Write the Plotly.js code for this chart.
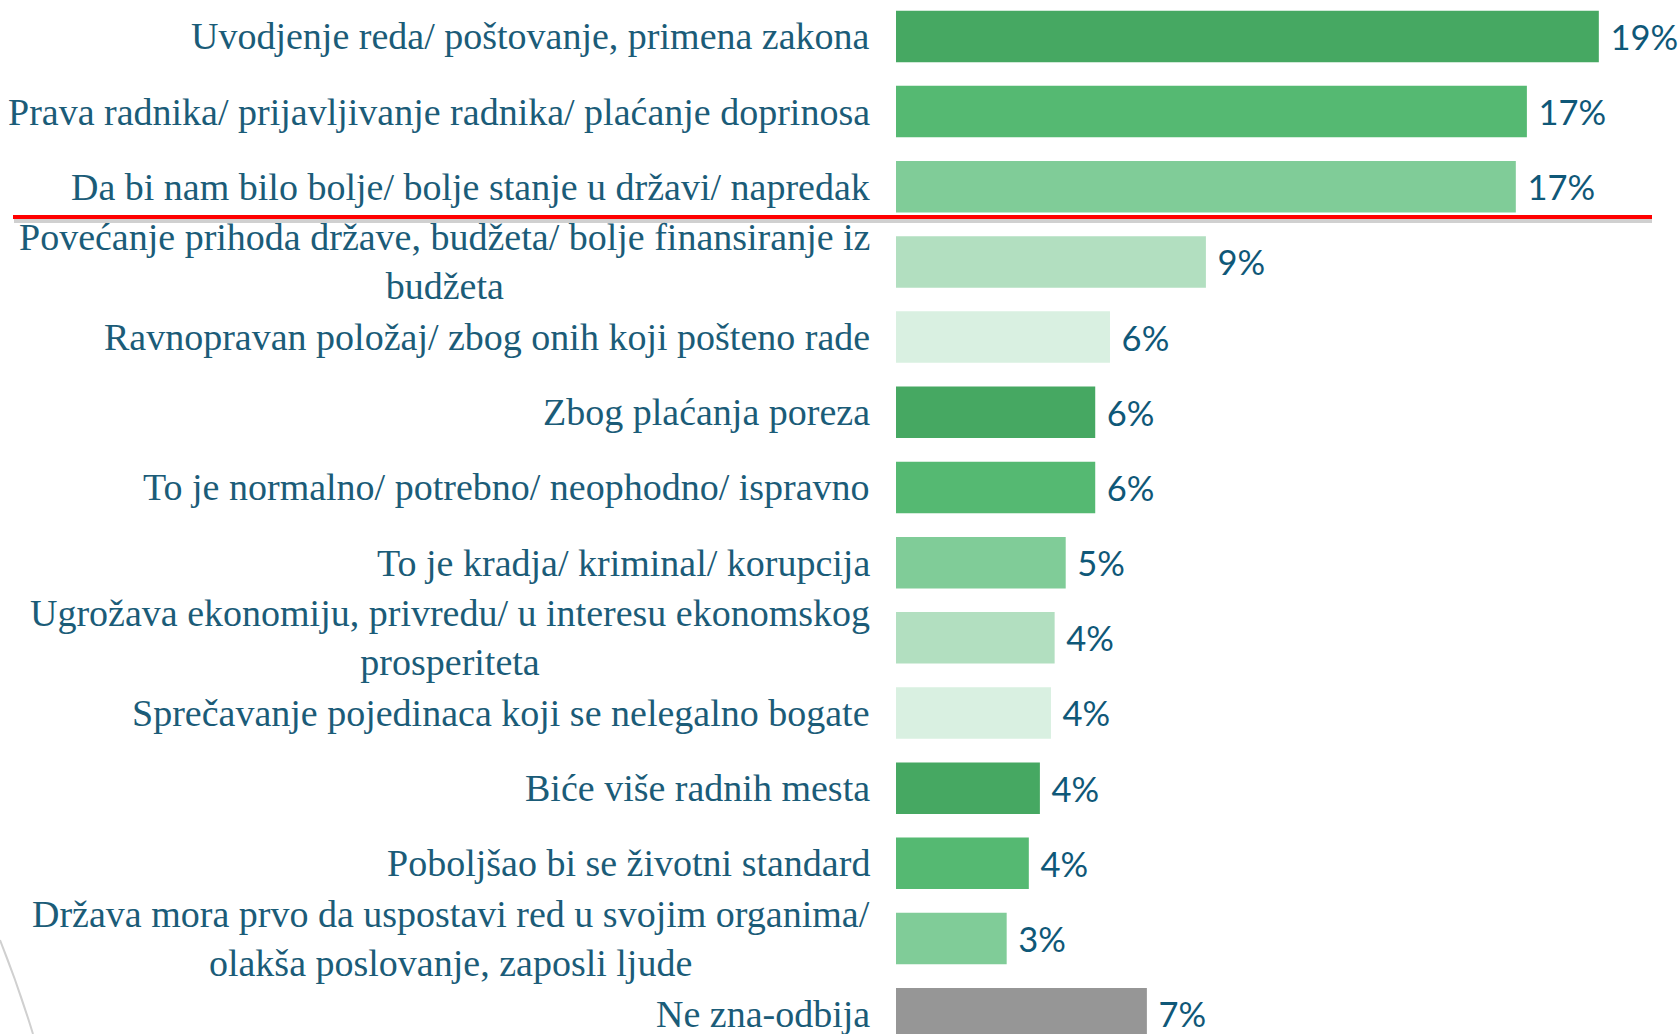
<!DOCTYPE html>
<html>
<head>
<meta charset="utf-8">
<script src="https://cdn.plot.ly/plotly-3.0.1.min.js"></script>
<style>
  html, body { margin: 0; padding: 0; background: #fff; }
  #plot { width: 1680px; height: 1034px; }
</style>
</head>
<body>
<div id="plot"></div>
<script>
var categories = [
  'Uvodjenje reda/ poštovanje, primena zakona',
  'Prava radnika/ prijavljivanje radnika/ plaćanje doprinosa',
  'Da bi nam bilo bolje/ bolje stanje u državi/ napredak',
  'Povećanje prihoda države, budžeta/ bolje finansiranje iz<br>budžeta',
  'Ravnopravan položaj/ zbog onih koji pošteno rade',
  'Zbog plaćanja poreza',
  'To je normalno/ potrebno/ neophodno/ ispravno',
  'To je kradja/ kriminal/ korupcija',
  'Ugrožava ekonomiju, privredu/ u interesu ekonomskog<br>prosperiteta',
  'Sprečavanje pojedinaca koji se nelegalno bogate',
  'Biće više radnih mesta',
  'Poboljšao bi se životni standard',
  'Država mora prvo da uspostavi red u svojim organima/<br>olakša poslovanje, zaposli ljude',
  'Ne zna-odbija'
];
var values = [19.05, 17.1, 16.8, 8.4, 5.8, 5.4, 5.4, 4.6, 4.3, 4.2, 3.9, 3.6, 3.0, 6.8];
var valueLabels = ['19%', '17%', '17%', '9%', '6%', '6%', '6%', '5%', '4%', '4%', '4%', '4%', '3%', '7%'];
var barColors = ['#46A862', '#55B972', '#80CC98', '#B2DFC0', '#D9F0E1',
                 '#46A862', '#55B972', '#80CC98', '#B2DFC0', '#D9F0E1',
                 '#46A862', '#55B972', '#80CC98', '#969696'];

var W = 1680, H = 1034, plotLeft = 896;
// pixel -> paper helpers for the decorative shapes
function px(x) { return (x - plotLeft) / (W - plotLeft); }
function py(y) { return 1 - y / H; }

var data = [{
  type: 'bar',
  orientation: 'h',
  y: categories,
  x: values,
  width: 0.685,
  marker: {color: barColors},
  text: valueLabels.map(function (t) { return '\u2009\u2009' + t; }),
  textposition: 'outside',
  cliponaxis: false,
  textfont: {family: 'Lato, sans-serif', size: 34.5, color: '#0F5878'},
  hoverinfo: 'none'
}];

var labelAnnotations = categories.map(function (c) {
  return {
    xref: 'paper', yref: 'y',
    x: 0, y: c,
    xanchor: 'right', yanchor: 'middle',
    xshift: -24,
    align: 'center',
    text: c,
    showarrow: false,
    font: {family: '"Liberation Serif", serif', size: 38, color: '#1B5C78'}
  };
});

var layout = {
  width: W,
  height: H,
  margin: {l: plotLeft, r: 0, t: 0, b: 0, pad: 0},
  paper_bgcolor: '#ffffff',
  plot_bgcolor: '#ffffff',
  showlegend: false,
  xaxis: {range: [0, 21.25], visible: false, fixedrange: true},
  yaxis: {
    type: 'category',
    range: [13.27, -0.484],
    showticklabels: false,
    showgrid: false,
    zeroline: false,
    showline: false,
    ticks: ''
  },
  annotations: labelAnnotations,
  shapes: [
    {type: 'line', xref: 'paper', yref: 'paper',
     x0: px(14), x1: px(1652), y0: py(221), y1: py(221),
     line: {color: 'rgba(120,120,120,0.35)', width: 4}},
    {type: 'line', xref: 'paper', yref: 'paper',
     x0: px(13), x1: px(1652), y0: py(217), y1: py(217),
     line: {color: '#FF0000', width: 4}},
    {type: 'path', xref: 'paper', yref: 'paper',
     path: 'M ' + px(0) + ' ' + py(940) + ' Q ' + px(18) + ' ' + py(985) + ' ' + px(33) + ' ' + py(1034),
     line: {color: '#D0D0D0', width: 2}}
  ]
};

Plotly.newPlot('plot', data, layout, {displayModeBar: false, staticPlot: true});
</script>
</body>
</html>
